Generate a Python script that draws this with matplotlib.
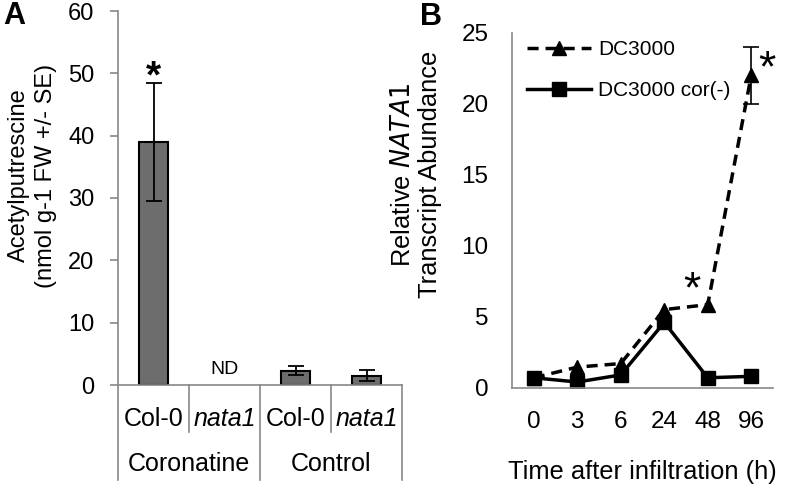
import matplotlib
matplotlib.use("Agg")
import matplotlib.pyplot as plt
from matplotlib.transforms import blended_transform_factory

plt.rcParams['font.family'] = ['Liberation Sans', 'DejaVu Sans']

# ---- Panel A data ----
genotypes = ["Col-0", "nata1", "Col-0", "nata1"]
geno_italic = [False, True, False, True]
groups = ["Coronatine", "Control"]
acet_values = [39.0, 0.0, 2.3, 1.5]
acet_err = [9.5, 0.0, 0.7, 0.9]
acet_drawn = [True, False, True, True]

# ---- Panel B data ----
times = ["0", "3", "6", "24", "48", "96"]
dc3000 = [0.7, 1.45, 1.7, 5.5, 5.85, 22.0]
dc3000_err = [0, 0, 0, 0, 0, 2.0]
cor_minus = [0.7, 0.4, 0.9, 4.6, 0.7, 0.8]

fig = plt.figure(figsize=(7.89, 4.87), dpi=100)
gray = "#888888"

# ---------------- Panel A ----------------
axA = fig.add_axes([118/789, 1-385/487, 284/789, 374/487])
xs = list(range(len(genotypes)))
for i in xs:
    if acet_drawn[i]:
        axA.bar(i, acet_values[i], width=0.41, color="#6d6d6d",
                edgecolor="black", linewidth=1.5, zorder=2)
        axA.errorbar(i, acet_values[i], yerr=acet_err[i], fmt="none",
                     ecolor="black", elinewidth=1.3, capsize=6, capthick=1.3, zorder=3)
axA.text(1, 1.2, "ND", ha="center", va="bottom", fontsize=14)
axA.text(0, 49.3, "*", ha="center", va="center", fontsize=28, fontweight="bold")
axA.set_xlim(-0.5, 3.5)
axA.set_ylim(0, 60)
axA.set_yticks([0, 10, 20, 30, 40, 50, 60])
axA.tick_params(axis="y", labelsize=17, length=6, color=gray, width=1.2, pad=11)
axA.set_xticks([])
for s in ["top", "right"]:
    axA.spines[s].set_visible(False)
for s in ["left", "bottom"]:
    axA.spines[s].set_color(gray)
    axA.spines[s].set_linewidth(1.2)
trA = blended_transform_factory(axA.transData, axA.transAxes)
pxA = 1/374.0
for b in [-0.5, 0.5, 1.5, 2.5, 3.5]:
    low = -95*pxA if b in (-0.5, 1.5, 3.5) else -47*pxA
    axA.plot([b, b], [0, low], transform=trA, color=gray, lw=1.2, clip_on=False)
for i, g in enumerate(genotypes):
    axA.text(i, -34*pxA, g, transform=trA, ha="center", va="center", fontsize=18,
             style="italic" if geno_italic[i] else "normal")
for j, g in enumerate(groups):
    axA.text(2*j + 0.5, -79*pxA, g, transform=trA, ha="center", va="center", fontsize=18)
axA.set_ylabel("Acetylputrescine\n(nmol g-1 FW +/- SE)", fontsize=17, linespacing=1.3)
axA.yaxis.set_label_coords(-0.215, 0.56)
fig.text(3/789, 1-16/487, "A", fontsize=22, fontweight="bold", va="center")

# ---------------- Panel B ----------------
axB = fig.add_axes([512/789, 1-387.7/487, 261/789, 355/487])
xb = list(range(len(times)))
axB.plot(xb, dc3000, color="black", lw=2.5, ls=(0, (3.2, 2.0)), marker="^",
         markersize=9.5, label="DC3000", zorder=3)
axB.errorbar(xb[-1], dc3000[-1], yerr=dc3000_err[-1], fmt="none", ecolor="black",
             elinewidth=1.2, capsize=6, capthick=1.2, zorder=3)
axB.plot(xb, cor_minus, color="black", lw=2.5, marker="s", markersize=10,
         label="DC3000 cor(-)", zorder=2)
axB.text(3.64, 6.8, "*", ha="center", va="center", fontsize=32)
axB.text(5.36, 22.4, "*", ha="center", va="center", fontsize=32)
axB.set_xlim(-0.5, 5.5)
axB.set_ylim(0, 25)
axB.set_xticks(xb)
axB.set_xticklabels(times)
axB.set_yticks([0, 5, 10, 15, 20, 25])
axB.tick_params(axis="y", labelsize=17.5, length=0, pad=17)
axB.tick_params(axis="x", labelsize=17.5, length=0, pad=17)
for s in ["top", "right"]:
    axB.spines[s].set_visible(False)
for s in ["left", "bottom"]:
    axB.spines[s].set_color(gray)
    axB.spines[s].set_linewidth(1.2)
axB.set_xlabel("Time after infiltration (h)", fontsize=18.4, labelpad=19)
axB.set_ylabel(r"Relative $\mathit{NATA1}$" + "\nTranscript Abundance", fontsize=18.4,
               linespacing=1.15)
axB.yaxis.set_label_coords(-0.27, 0.6)
leg = axB.legend(loc="upper left", bbox_to_anchor=(0.0, 1.02), frameon=False,
                 fontsize=15, handlelength=3.1, handletextpad=0.35, labelspacing=1.05,
                 borderaxespad=0.3)
fig.text(420/789, 1-17/487, "B", fontsize=22, fontweight="bold", va="center")

fig.savefig("out.png", dpi=100)
